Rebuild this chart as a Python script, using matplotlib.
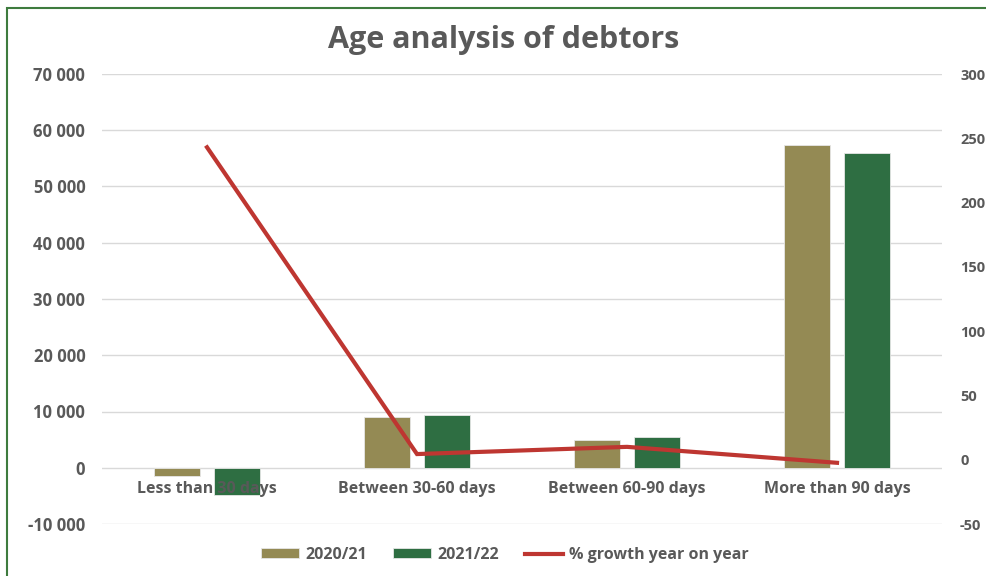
import numpy as np
import matplotlib
matplotlib.use("Agg")
import matplotlib.pyplot as plt
from matplotlib.patches import Rectangle
from matplotlib.ticker import FuncFormatter

# dados
categorias = ["Less than 30 days", "Between 30-60 days", "Between 60-90 days", "More than 90 days"]
valores_2020 = [-1400, 9000, 5000, 57400]
valores_2021 = [-4800, 9400, 5500, 56000]
crescimento = [243, 4.4, 10.0, -2.4]

cinza = "#595959"
cor_2020 = "#948A54"
cor_2021 = "#2E6E42"
cor_linha = "#BE3631"

plt.rcParams["font.family"] = ["Open Sans", "DejaVu Sans"]
plt.rcParams["axes.unicode_minus"] = False

fig = plt.figure(figsize=(9.87, 5.76), dpi=100)
W, H = 987, 576
ax = fig.add_axes([102 / W, 1 - 524 / H, 840 / W, 450 / H])

x = np.arange(len(categorias))
largura = 0.22
desloc = 0.143

ax.bar(x - desloc, valores_2020, largura, color=cor_2020, edgecolor="#e6e6e6",
       linewidth=0.6, label="2020/21", zorder=2)
ax.bar(x + desloc, valores_2021, largura, color=cor_2021, edgecolor="#e6e6e6",
       linewidth=0.6, label="2021/22", zorder=2)

ax.set_xlim(-0.5, len(categorias) - 0.5)
ax.set_ylim(-10000, 70000)
ax.set_yticks(np.arange(-10000, 70001, 10000))
ax.yaxis.set_major_formatter(FuncFormatter(lambda v, p: f"{int(v):,}".replace(",", " ")))
ax.grid(axis="y", color="#d9d9d9", linewidth=1, zorder=0)
ax.set_axisbelow(True)
for s in ax.spines.values():
    s.set_visible(False)
ax.set_xticks([])
ax.tick_params(axis="y", length=0, pad=12, labelsize=12, labelcolor=cinza)
for t in ax.get_yticklabels():
    t.set_fontweight("bold")

# rótulos das categorias por cima das barras
for i, cat in enumerate(categorias):
    ax.annotate(cat, (i, 0), xytext=(0, -21), textcoords="offset pixels",
                ha="center", va="center", fontsize=11.5, fontweight="bold",
                color=cinza, zorder=5)

# eixo secundário - crescimento %
ax2 = ax.twinx()
ax2.plot(x, crescimento, color=cor_linha, linewidth=3, label="% growth year on year",
         solid_joinstyle="miter", zorder=3)
ax2.set_ylim(-50, 300)
ax2.set_yticks(np.arange(-50, 301, 50))
for s in ax2.spines.values():
    s.set_visible(False)
ax2.tick_params(axis="y", length=0, pad=13, labelsize=10.5, labelcolor=cinza)
for t in ax2.get_yticklabels():
    t.set_fontweight("bold")

fig.text(504 / W, 1 - 40 / H, "Age analysis of debtors", ha="center", va="center",
         fontsize=22, fontweight="bold", color=cinza)

h1, l1 = ax.get_legend_handles_labels()
h2, l2 = ax2.get_legend_handles_labels()
leg = fig.legend(h1 + h2, l1 + l2, loc="center", bbox_to_anchor=(505 / W, 1 - 555 / H),
                 ncol=3, frameon=False, handlelength=2.4, handleheight=0.6,
                 columnspacing=1.6, handletextpad=0.4, fontsize=11.5)
for t in leg.get_texts():
    t.set_color(cinza)
    t.set_fontweight("bold")

# moldura verde
fig.patches.append(Rectangle((7 / W, -0.1), 1.2, 1.1 - 8 / H, transform=fig.transFigure,
                             fill=False, edgecolor="#3E7B3E", linewidth=1.5))

fig.savefig("out.png", dpi=100)
